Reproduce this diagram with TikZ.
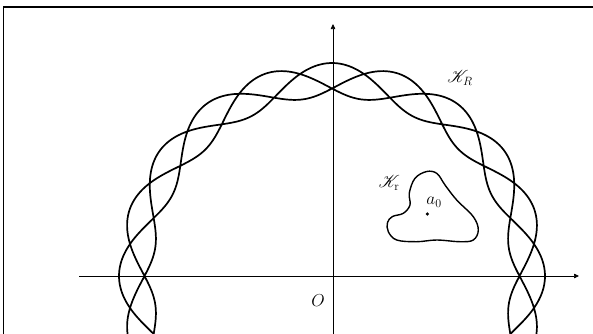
\documentclass[tikz,border=0pt]{standalone}
\usepackage{mathrsfs}
\usetikzlibrary{arrows.meta}
\begin{document}
\begin{tikzpicture}[x=1pt,y=-1pt,
  axis/.style={line width=0.7pt,-{Triangle[length=5pt,width=4.5pt]}},
  curve/.style={line width=1.7pt,line join=round},
  lbl/.style={inner sep=0pt,font=\fontsize{17}{19}\selectfont}]
\useasboundingbox (0,0) rectangle (593,333);
\begin{scope}
\clip (0,0) rectangle (593,333);
% frame
\draw[line width=1.6pt] (3.5,340) -- (3.5,7) -- (600,7);
% axes
\coordinate (xl) at (79,276);
\coordinate (xr) at (579,276);
\coordinate (yb) at (333,340);
\coordinate (yt) at (333,24);
\draw[axis] (xl) -- (xr);
\draw[axis] (yb) -- (yt);
% braided curve
\draw[curve] plot[domain=0:1080,samples=1500,variable=\t]
  ({332+(196+17*cos(mod(\t/3,54)*20))*cos(\t)},{276-(196+17*cos(mod(\t/3,54)*20))*sin(\t)});
\end{scope}
% small curve
\draw[line width=1.4pt] plot[smooth cycle,tension=0.6] coordinates {
 (409.3,193) (415,178.3) (426.7,171.5) (437,173.5) (445,185) (456.7,200)
 (473.3,216.7) (478.3,230) (473.3,240) (460,241.7) (436.7,240) (416.7,241.7)
 (396.7,240) (388.3,231.7) (387.5,222.5) (392.5,216.5) (403.3,213.3) (410,205)};
\fill (427.3,214) circle (1.8pt) coordinate (a0);
\node[lbl] (la0) at (434,202) {$a_0$};
\node[lbl] (lKr) at (389,183) {$\mathscr{K}_{\mathrm{r}}$};
\node[lbl] (lKR) at (460,78) {$\mathscr{K}_R$};
\node[lbl] (lO) at (318,301) {$O$};
\end{tikzpicture}
\end{document}
